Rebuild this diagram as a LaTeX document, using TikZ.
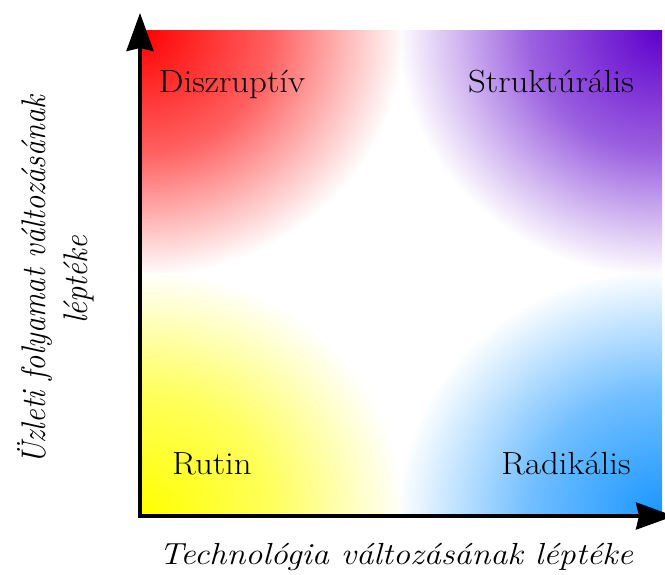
\documentclass[tikz,border=0pt]{standalone}
\usetikzlibrary{arrows.meta}
\definecolor{qred}{RGB}{255,0,0}
\definecolor{qpurple}{RGB}{95,0,205}
\definecolor{qyellow}{RGB}{255,255,0}
\definecolor{qblue}{RGB}{25,150,255}
\pgfdeclareradialshading{shred}{\pgfpointorigin}{color(0bp)=(qred);color(12.5bp)=(qred!62);color(25bp)=(white);color(50bp)=(white)}
\pgfdeclareradialshading{shpurple}{\pgfpointorigin}{color(0bp)=(qpurple);color(12.5bp)=(qpurple!62);color(25bp)=(white);color(50bp)=(white)}
\pgfdeclareradialshading{shyellow}{\pgfpointorigin}{color(0bp)=(qyellow);color(12.5bp)=(qyellow!64);color(25bp)=(white);color(50bp)=(white)}
\pgfdeclareradialshading{shblue}{\pgfpointorigin}{color(0bp)=(qblue);color(12.5bp)=(qblue!62);color(25bp)=(white);color(50bp)=(white)}
\begin{document}
\begin{tikzpicture}[x=1pt,y=-1pt,
  lbl/.style={font=\fontsize{32}{38}\selectfont, anchor=base, inner sep=0pt, xscale=1.09},
  axlbl/.style={font=\fontsize{30.5}{37}\selectfont\itshape, inner sep=0pt, xscale=1.12},
  axisline/.style={line width=3.5pt, -{Stealth[length=38pt,width=27pt,inset=3pt]}}]
\useasboundingbox (0,0) rectangle (665,574);
% quadrants
\begin{scope}
\clip (140,30) rectangle (401,273);
\shade[shading=shred] (140,30) ellipse [x radius=265, y radius=247];
\end{scope}
\begin{scope}
\clip (401,30) rectangle (662,273);
\shade[shading=shpurple] (662,30) ellipse [x radius=265, y radius=247];
\end{scope}
\begin{scope}
\clip (140,273) rectangle (401,516);
\shade[shading=shyellow] (140,516) ellipse [x radius=265, y radius=247];
\end{scope}
\begin{scope}
\clip (401,273) rectangle (662,516);
\shade[shading=shblue] (662,516) ellipse [x radius=265, y radius=247];
\end{scope}
% labels
\node[lbl] (dis) at (232,92) {Diszruptív};
\node[lbl] (str) at (551,92) {Struktúrális};
\node[lbl] (rut) at (212,474) {Rutin};
\node[lbl] (rad) at (566,474) {Radikális};
% axes
\coordinate (ystart) at (140,517.75);
\coordinate (ytip) at (140,13);
\coordinate (xstart) at (138.25,516);
\coordinate (xtip) at (674,516);
\draw[axisline] (ystart) -- (ytip);
\draw[axisline] (xstart) -- (xtip);
\node[axlbl, anchor=base] (xlab) at (396,564) {Technológia változásának léptéke};
\node[axlbl, rotate=90, align=center] (ylab) at (56,280) {Üzleti folyamat változásának\\léptéke};
\end{tikzpicture}
\end{document}
